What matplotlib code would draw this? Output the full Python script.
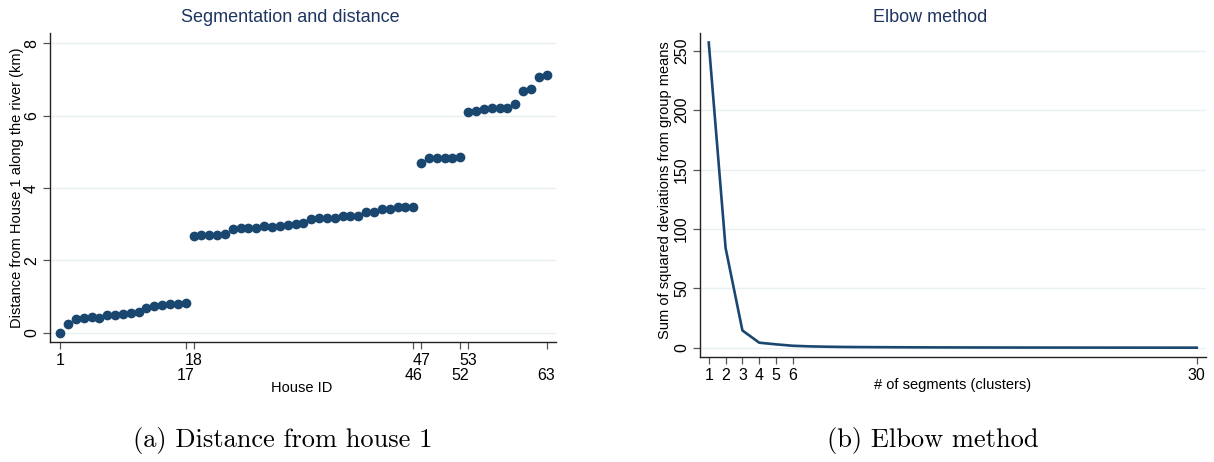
import matplotlib
matplotlib.use("Agg")
import matplotlib.pyplot as plt

plt.rcParams['font.family'] = ['Liberation Sans', 'DejaVu Sans']

# ---- Data ----
house_ids = list(range(1, 64))
distance_km = [
    0.00, 0.25, 0.38, 0.40, 0.43, 0.42, 0.49, 0.49, 0.52, 0.55, 0.58, 0.70, 0.73, 0.78, 0.80, 0.81, 0.82,
    2.68, 2.69, 2.70, 2.71, 2.74, 2.88, 2.89, 2.90, 2.91, 2.94, 2.93, 2.95, 2.97, 3.00, 3.04, 3.15, 3.17,
    3.17, 3.17, 3.23, 3.23, 3.24, 3.34, 3.34, 3.41, 3.43, 3.47, 3.48, 3.48,
    4.68, 4.84, 4.84, 4.84, 4.84, 4.86,
    6.11, 6.12, 6.17, 6.21, 6.22, 6.22, 6.31, 6.68, 6.74, 7.06, 7.11,
]
house_ticks_row1 = [1, 18, 47, 53]
house_ticks_row2 = [17, 46, 52, 63]

n_clusters = list(range(1, 31))
ssd = [257, 84, 14.5, 4.2, 2.8, 1.6, 1.1, 0.8, 0.6, 0.5, 0.42, 0.36, 0.30, 0.26, 0.22,
       0.19, 0.16, 0.14, 0.12, 0.10, 0.09, 0.08, 0.07, 0.06, 0.05, 0.04, 0.03, 0.02, 0.01, 0.0]
cluster_ticks = [1, 2, 3, 4, 5, 6, 30]

W, H = 1214, 462
fig = plt.figure(figsize=(W / 100, H / 100), dpi=100)

navy = '#1a476f'
grid_c = '#e8f0f2'
title_c = '#1e3560'

def style(ax):
    for s in ['top', 'right']:
        ax.spines[s].set_visible(False)
    for s in ['left', 'bottom']:
        ax.spines[s].set_color('#222222')
        ax.spines[s].set_linewidth(1.0)
    ax.tick_params(which='both', direction='out', length=5, width=0.9, color='#555555',
                   labelsize=11.5, pad=3)
    ax.grid(axis='y', color=grid_c, linewidth=1.0)
    ax.set_axisbelow(True)
    for lab in ax.get_yticklabels():
        lab.set_rotation(90)
        lab.set_va('center')

# ---- Left panel ----
ax1 = fig.add_axes([50 / W, 1 - 342 / H, (556 - 50) / W, (342 - 33) / H])
ax1.plot(house_ids, distance_km, 'o', color=navy, ms=6, mec=navy, zorder=3)
ax1.set_xlim(-0.3, 64.2)
ax1.set_ylim(-0.25, 8.28)
ax1.set_yticks([0, 2, 4, 6, 8])
ax1.set_xticks(house_ticks_row1)
ax1.set_xticks(house_ticks_row2, minor=True)
ax1.set_xticklabels([str(v) for v in house_ticks_row1])
ax1.set_xticklabels([str(v) for v in house_ticks_row2], minor=True)
style(ax1)
ax1.tick_params(axis='x', which='minor', pad=14)

# ---- Right panel ----
ax2 = fig.add_axes([700 / W, 1 - 356.7 / H, (1206 - 700) / W, (356.7 - 33) / H])
ax2.plot(n_clusters, ssd, '-', color=navy, lw=1.9, zorder=3)
ax2.set_xlim(0.48, 30.55)
ax2.set_ylim(-7.6, 265)
ax2.set_yticks([0, 50, 100, 150, 200, 250])
ax2.set_xticks(cluster_ticks)
style(ax2)

# ---- Titles & labels ----
fig.text(290 / W, 1 - 18 / H, 'Segmentation and distance', ha='center', va='center',
         fontsize=13, color=title_c)
fig.text(930 / W, 1 - 18 / H, 'Elbow method', ha='center', va='center',
         fontsize=13, color=title_c)
fig.text(17 / W, 1 - 188 / H, 'Distance from House 1 along the river (km)', ha='center',
         va='center', rotation=90, fontsize=10.5)
fig.text(665 / W, 1 - 190 / H, 'Sum of squared deviations from group means', ha='center',
         va='center', rotation=90, fontsize=10.5)
fig.text(302 / W, 1 - 388 / H, 'House ID', ha='center', va='center', fontsize=10.5)
fig.text(953 / W, 1 - 385 / H, '# of segments (clusters)', ha='center', va='center', fontsize=10.5)

fig.text(283 / W, 1 - 440 / H, '(a) Distance from house 1', ha='center', va='center',
         fontsize=19, family=['cmr10', 'DejaVu Serif'])
fig.text(933 / W, 1 - 440 / H, '(b) Elbow method', ha='center', va='center',
         fontsize=19, family=['cmr10', 'DejaVu Serif'])

fig.savefig('out.png', dpi=100, facecolor='white')
